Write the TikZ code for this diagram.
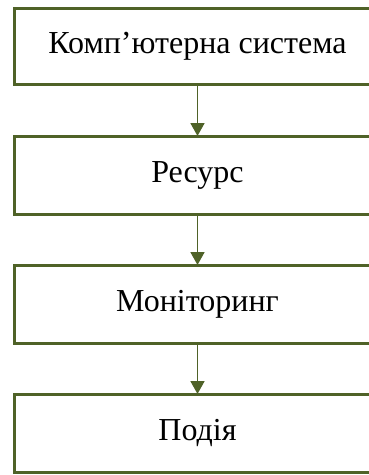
\documentclass[tikz,border=0pt]{standalone}
\usepackage{fontspec}
\setmainfont{Liberation Serif}
\usetikzlibrary{arrows.meta}
\definecolor{boxgreen}{HTML}{4F6228}
\begin{document}
\begin{tikzpicture}[x=1pt,y=1pt,
  stepbox/.style={draw=boxgreen,line width=3pt,fill=white,minimum width=366pt,
    outer sep=0pt,inner sep=0pt,font=\fontsize{32}{38}\selectfont,text=black},
  flow/.style={draw=boxgreen,line width=1.8pt,-{Triangle[width=14pt,length=13pt]}}]
\useasboundingbox (0,0) rectangle (369,-475);
\clip (0,0) rectangle (369,-475);
\node[stepbox,minimum height=76pt] (b1) at (197.5,-46) {Комп’ютерна система};
\node[stepbox,minimum height=78pt] (b2) at (197.5,-175) {Ресурс};
\node[stepbox,minimum height=78pt] (b3) at (197.5,-304) {Моніторинг};
\node[stepbox,minimum height=78pt] (b4) at (197.5,-433) {Подія};
\draw[flow] (b1.south) -- (b2.north);
\draw[flow] (b2.south) -- (b3.north);
\draw[flow] (b3.south) -- (b4.north);
\end{tikzpicture}
\end{document}
